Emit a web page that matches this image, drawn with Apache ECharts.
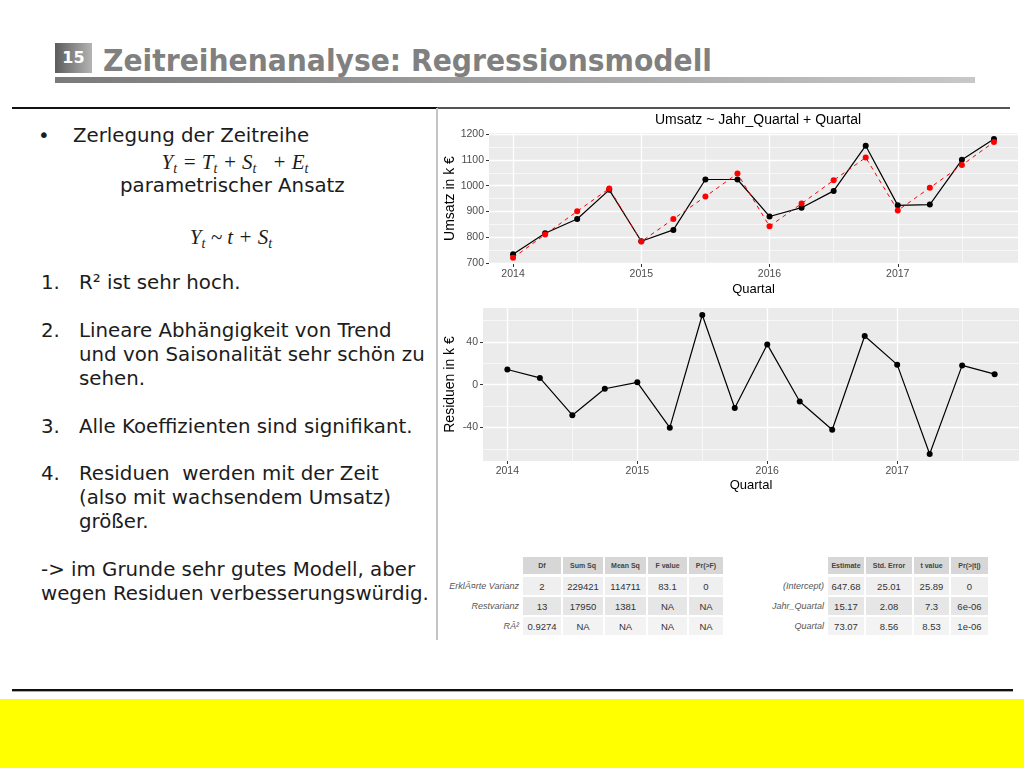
<!DOCTYPE html>
<html lang="de"><head><meta charset="utf-8"><title>Zeitreihenanalyse: Regressionsmodell</title>
<script src="https://cdn.jsdelivr.net/npm/echarts@6.0.0/dist/echarts.min.js"></script>
<style>
html,body{margin:0;padding:0;background:#fff;}
body{position:relative;width:1024px;height:768px;overflow:hidden;}
.a{position:absolute;white-space:nowrap;}
.t{font-family:"DejaVu Sans",Verdana,sans-serif;font-size:19.8px;line-height:24px;color:#1c1c1c;}
.f{font-family:"Liberation Serif","DejaVu Serif",serif;font-style:italic;font-size:21px;line-height:24px;color:#1c1c1c;transform:translateX(-50%);}
.f sub{font-size:14px;vertical-align:-4px;line-height:0;}
.cell{position:absolute;display:flex;align-items:center;justify-content:center;font-family:"Liberation Sans",Arial,sans-serif;color:#333;}
</style></head><body>

<!-- slide header -->
<div class="a" style="left:55px;top:43px;width:37px;height:30px;background:linear-gradient(to right,#5c5c5c,#b4b4b4);"></div>
<div class="a" style="left:55px;top:43px;width:37px;height:30px;line-height:30px;text-align:center;font-family:'DejaVu Sans',sans-serif;font-weight:bold;font-size:16px;color:#fff;">15</div>
<div id="title" class="a" style="left:103px;top:43px;font-family:'DejaVu Sans',sans-serif;font-weight:bold;font-size:31px;line-height:34px;color:#808080;transform-origin:0 0;">Zeitreihenanalyse: Regressionsmodell</div>
<div class="a" style="left:55px;top:77px;width:920px;height:6px;background:linear-gradient(to right,#7a7a7a,#c8c8c8);"></div>

<div class="a" style="left:12px;top:107px;width:425px;height:2px;background:#111;"></div>
<div class="a" style="left:437px;top:107px;width:573px;height:2px;background:#555;"></div>
<div class="a" style="left:436px;top:108px;width:2px;height:532px;background:#c4c4c4;"></div>
<div class="a" style="left:12px;top:689px;width:1001px;height:2px;background:#111;"></div>
<div class="a" style="left:12px;top:691px;width:1001px;height:1px;background:#aaa;"></div>
<div class="a" style="left:0;top:699px;width:1024px;height:69px;background:#ffff00;"></div>

<!-- left text -->
<div class="a t" style="left:38px;top:124px;">•</div>
<div class="a t" style="left:73px;top:124px;">Zerlegung der Zeitreihe</div>
<div class="a f" style="left:235px;top:150px;">Y<sub>t</sub> = T<sub>t</sub> + S<sub>t</sub> &nbsp;&nbsp;+ E<sub>t</sub></div>
<div class="a t" style="left:120px;top:174px;">parametrischer Ansatz</div>
<div class="a f" style="left:231px;top:225px;">Y<sub>t</sub> ~ <i>t</i> + S<sub>t</sub></div>
<div class="a t" style="left:41px;top:271px;">1.</div><div class="a t" style="left:79px;top:271px;">R² ist sehr hoch.</div>
<div class="a t" style="left:41px;top:319px;">2.</div><div class="a t" style="left:79px;top:319px;">Lineare Abhängigkeit von Trend</div>
<div class="a t" style="left:79px;top:343px;">und von Saisonalität sehr schön zu</div>
<div class="a t" style="left:79px;top:367px;">sehen.</div>
<div class="a t" style="left:41px;top:415px;">3.</div><div class="a t" style="left:79px;top:415px;">Alle Koeffizienten sind signifikant.</div>
<div class="a t" style="left:41px;top:462px;">4.</div><div class="a t" style="left:79px;top:462px;">Residuen &nbsp;werden mit der Zeit</div>
<div class="a t" style="left:79px;top:486px;">(also mit wachsendem Umsatz)</div>
<div class="a t" style="left:79px;top:510px;">größer.</div>
<div class="a t" style="left:41px;top:558px;">-&gt; im Grunde sehr gutes Modell, aber</div>
<div class="a t" style="left:41px;top:582px;">wegen Residuen verbesserungswürdig.</div>

<div id="chart" class="a" style="left:439px;top:108px;width:585px;height:392px;"></div>
<div id="tables"></div>

<script>
// ---- data ----
const quarters = [2014, 2014.25, 2014.5, 2014.75, 2015, 2015.25, 2015.5, 2015.75, 2016, 2016.25, 2016.5, 2016.75, 2017, 2017.25, 2017.5, 2017.75];
const umsatz   = [735, 816, 871, 984, 785, 829, 1024, 1024, 881, 915, 980, 1155, 924, 927, 1100, 1181];
const fitted   = [721, 811, 901, 989, 784, 871, 958, 1047, 843, 931, 1021, 1109, 904, 992, 1080, 1169];
const residuen = [14.2, 6.3, -28.5, -3.8, 2.2, -40.2, 65.1, -21.8, 37.6, -15.8, -42.1, 45.5, 18.7, -64.8, 18.0, 9.8];
const yearTicks = [2014, 2015, 2016, 2017];
const halfYearTicks = [2014.5, 2015.5, 2016.5, 2017.5];
const umsatzTicks = [700, 800, 900, 1000, 1100, 1200];
const umsatzMinorTicks = [750, 850, 950, 1050, 1150];
const residTicks = [-40, 0, 40];
const residMinorTicks = [-60, -20, 20, 60];

const anovaHeader = ['Df', 'Sum Sq', 'Mean Sq', 'F value', 'Pr(>F)'];
const anovaLabels = ['ErklÃ¤rte Varianz', 'Restvarianz', 'RÂ²'];
const anovaValues = [['2', '229421', '114711', '83.1', '0'], ['13', '17950', '1381', 'NA', 'NA'], ['0.9274', 'NA', 'NA', 'NA', 'NA']];
const coefHeader = ['Estimate', 'Std. Error', 't value', 'Pr(>|t|)'];
const coefLabels = ['(Intercept)', 'Jahr_Quartal', 'Quartal'];
const coefValues = [['647.68', '25.01', '25.89', '0'], ['15.17', '2.08', '7.3', '6e-06'], ['73.07', '8.56', '8.53', '1e-06']];

// ---- title fit ----
(function(){
  const el = document.getElementById('title');
  const w = el.getBoundingClientRect().width;
  el.style.transform = 'scaleX(' + (609 / w) + ')';
})();

// ---- tables ----
function buildTable(cols, labelRight, header, labels, values) {
  const host = document.getElementById('tables');
  const rowTops = [577, 597, 617];
  const rowBg = ['#efefef', '#e6e6e6', '#f3f3f3'];
  cols.forEach((c, i) => {
    const d = document.createElement('div');
    d.className = 'cell';
    d.style.cssText += `left:${c[0]}px;top:557px;width:${c[1]}px;height:17px;background:#d7d7d7;font-size:7px;font-weight:bold;color:#444;`;
    d.textContent = header[i];
    host.appendChild(d);
  });
  labels.forEach((lab, r) => {
    const l = document.createElement('div');
    l.className = 'cell';
    l.style.cssText += `left:${labelRight - 120}px;top:${rowTops[r]}px;width:120px;height:18px;justify-content:flex-end;font-size:9px;font-style:italic;color:#555;`;
    l.textContent = lab;
    host.appendChild(l);
    cols.forEach((c, i) => {
      const d = document.createElement('div');
      d.className = 'cell';
      d.style.cssText += `left:${c[0]}px;top:${rowTops[r]}px;width:${c[1]}px;height:18px;background:${rowBg[r]};font-size:9.5px;`;
      d.textContent = values[r][i];
      host.appendChild(d);
    });
  });
}
buildTable([[523, 38], [563, 40], [605, 41], [648, 39], [689, 34]], 519, anovaHeader, anovaLabels, anovaValues);
buildTable([[828, 36], [866, 46], [914, 35], [951, 37]], 824, coefHeader, coefLabels, coefValues);

// ---- chart ----
const FONT = '"Liberation Sans", Arial, sans-serif';
const pairs = (xs, ys) => xs.map((x, i) => [x, ys[i]]);
const fmt = v => String(v);

function majorAxis(grid, min, max, ticks, extra) {
  return Object.assign({
    gridIndex: grid, type: 'value', min: min, max: max,
    axisLine: { show: false, onZero: false },
    axisTick: { show: true, length: 3, customValues: ticks, lineStyle: { color: '#333', width: 1 } },
    axisLabel: { customValues: ticks, formatter: fmt, color: '#4d4d4d', fontSize: 10.5, fontFamily: FONT, margin: 5 },
    splitLine: { show: true, customValues: ticks, lineStyle: { color: '#ffffff', width: 1.3 } },
    nameLocation: 'middle',
    nameMoveOverlap: false,
    nameTextStyle: { color: '#000', fontSize: 13, fontFamily: FONT }
  }, extra || {});
}
function minorAxis(grid, min, max, ticks, pos) {
  return {
    gridIndex: grid, type: 'value', min: min, max: max, position: pos,
    axisLine: { show: false, onZero: false },
    axisTick: { show: false, customValues: ticks },
    axisLabel: { show: false, customValues: ticks },
    splitLine: { show: true, customValues: ticks, lineStyle: { color: '#ffffff', width: 0.6 } }
  };
}
const yNameStyle = { color: '#000', fontSize: 14, fontFamily: FONT };

const chart = echarts.init(document.getElementById('chart'), null, { renderer: 'canvas' });
chart.setOption({
  animation: false,
  backgroundColor: 'transparent',
  title: {
    text: 'Umsatz ~ Jahr_Quartal + Quartal', left: 314, top: 0, textAlign: 'center',
    textStyle: { fontFamily: FONT, fontSize: 14, fontWeight: 'normal', color: '#000' }
  },
  grid: [
    { left: 50, top: 25, width: 529, height: 131, show: true, backgroundColor: '#ebebeb', borderWidth: 0, outerBoundsMode: 'none' },
    { left: 44, top: 200, width: 536, height: 153, show: true, backgroundColor: '#ebebeb', borderWidth: 0, outerBoundsMode: 'none' }
  ],
  xAxis: [
    majorAxis(0, 2013.8125, 2017.9375, yearTicks, { name: 'Quartal', nameGap: 19 }),
    minorAxis(0, 2013.8125, 2017.9375, halfYearTicks, 'top'),
    majorAxis(1, 2013.8125, 2017.9375, yearTicks, { name: 'Quartal', nameGap: 18 }),
    minorAxis(1, 2013.8125, 2017.9375, halfYearTicks, 'top')
  ],
  yAxis: [
    majorAxis(0, 697, 1204, umsatzTicks, { name: 'Umsatz in k €', nameGap: 32, nameRotate: 90, nameTextStyle: yNameStyle }),
    minorAxis(0, 697, 1204, umsatzMinorTicks, 'right'),
    majorAxis(1, -71.3, 71.6, residTicks, { name: 'Residuen in k €', nameGap: 26, nameRotate: 90, nameTextStyle: yNameStyle }),
    minorAxis(1, -71.3, 71.6, residMinorTicks, 'right')
  ],
  series: [
    {
      name: 'Umsatz', type: 'line', xAxisIndex: 0, yAxisIndex: 0, data: pairs(quarters, umsatz),
      symbol: 'circle', symbolSize: 6, itemStyle: { color: '#000' }, lineStyle: { color: '#000', width: 1.2 }, z: 3
    },
    {
      name: 'Modell', type: 'line', xAxisIndex: 0, yAxisIndex: 0, data: pairs(quarters, fitted),
      symbol: 'circle', symbolSize: 6, itemStyle: { color: '#ff0000' }, lineStyle: { color: '#ff0000', width: 1, type: [4, 4] }, z: 4
    },
    {
      name: 'Residuen', type: 'line', xAxisIndex: 2, yAxisIndex: 2, data: pairs(quarters, residuen),
      symbol: 'circle', symbolSize: 6, itemStyle: { color: '#000' }, lineStyle: { color: '#000', width: 1.2 }, z: 3
    }
  ]
});
</script>
</body></html>
